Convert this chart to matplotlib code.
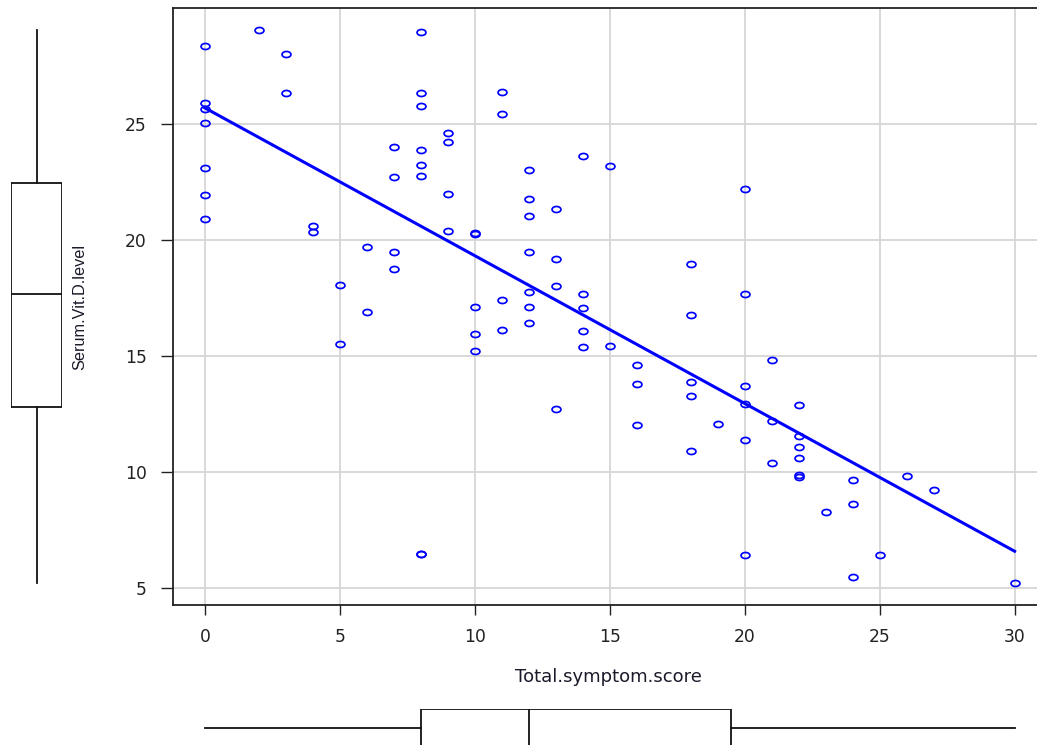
import numpy as np
import matplotlib.pyplot as plt
from matplotlib.path import Path

# Total symptom score and serum vitamin D level
score = [0, 0, 0, 0, 0, 0, 0,
         2,
         3, 3,
         4, 4,
         5, 5,
         6, 6,
         7, 7, 7, 7,
         8, 8, 8, 8, 8, 8, 8, 8,
         9, 9, 9, 9,
         10, 10, 10, 10, 10,
         11, 11, 11, 11,
         12, 12, 12, 12, 12, 12, 12,
         13, 13, 13, 13,
         14, 14, 14, 14, 14,
         15, 15,
         16, 16, 16,
         18, 18, 18, 18, 18,
         19,
         20, 20, 20, 20, 20, 20,
         21, 21, 21,
         22, 22, 22, 22, 22, 22,
         23,
         24, 24, 24,
         25, 26, 27, 30]

vitd = [28.35, 25.89, 25.65, 25.03, 23.09, 21.94, 20.91,
        29.05,
        28.03, 26.34,
        20.60, 20.33,
        18.06, 15.53,
        19.71, 16.88,
        24.00, 22.72, 19.50, 18.74,
        28.95, 26.34, 25.79, 23.89, 23.25, 22.76, 6.47, 6.47,
        24.60, 24.21, 22.00, 20.37,
        20.32, 20.28, 17.11, 15.93, 15.22,
        26.39, 25.42, 17.43, 16.13,
        23.03, 21.78, 21.02, 19.50, 17.76, 17.11, 16.41,
        21.35, 19.17, 18.03, 12.70,
        23.63, 17.66, 17.06, 16.08, 15.38,
        23.19, 15.43,
        14.61, 13.79, 12.01,
        18.95, 16.78, 13.86, 13.26, 10.92,
        12.05,
        22.20, 17.66, 13.69, 12.93, 11.36, 6.41,
        14.83, 12.21, 10.37,
        12.87, 11.56, 11.08, 10.59, 9.87, 9.80,
        8.26,
        9.67, 8.63, 5.49,
        6.41, 9.83, 9.24, 5.22]

xticks = [0, 5, 10, 15, 20, 25, 30]
yticks = [5, 10, 15, 20, 25]

score = np.array(score, dtype=float)
vitd = np.array(vitd)

W, H = 1037, 745
fig = plt.figure(figsize=(W / 100, H / 100), dpi=100)

# main scatter panel (right edge runs past the figure like in the reference)
ax = fig.add_axes([172.5 / W, (H - 605) / H, (1047 - 172.5) / W, (605 - 8) / H])

circ = Path.unit_circle()
ellipse = Path(circ.vertices * [1, 0.68], circ.codes)

ax.plot(score, vitd, linestyle='none', marker=ellipse, markersize=6.4,
        markerfacecolor='none', markeredgecolor='blue', markeredgewidth=1.25,
        zorder=3)

b, a = np.polyfit(score, vitd, 1)
xx = np.array([score.min(), score.max()])
ax.plot(xx, a + b * xx, color='blue', linewidth=2.2, zorder=4)

ax.set_xticks(xticks)
ax.set_yticks(yticks)
ax.grid(True, color='#d6d6d6', linewidth=1.3)
ax.set_axisbelow(True)
for s in ax.spines.values():
    s.set_linewidth(1.3)
    s.set_color('#222222')
ax.tick_params(axis='y', direction='out', length=8.6, width=1.0, pad=10,
               labelsize=12.3, colors='#222222')
ax.tick_params(axis='x', direction='out', length=7.2, width=1.0, pad=9.5,
               labelsize=12.3, colors='#222222')

fig.text(608 / W, 1 - 677 / H, 'Total.symptom.score', ha='center', va='center',
         fontsize=13, color='#1a1a2a')
fig.text(80 / W, 1 - 307 / H, 'Serum.Vit.D.level', ha='center', va='center',
         rotation=90, fontsize=11.7, color='#1a1a2a', family='Liberation Sans')

# marginal boxplots
boxstyle = dict(color='#111111', linewidth=1.3)
axl = fig.add_axes([11 / W, (H - 605) / H, 51 / W, (605 - 8) / H], sharey=ax)
axl.boxplot(vitd, positions=[0], widths=1, showcaps=False, manage_ticks=False,
            boxprops=boxstyle, whiskerprops=boxstyle, medianprops=boxstyle)
axl.set_xlim(-0.5, 0.5)
axl.axis('off')

axb = fig.add_axes([172.5 / W, (H - 747) / H, (1047 - 172.5) / W, 38 / H], sharex=ax)
axb.boxplot(score, positions=[0], widths=1, showcaps=False, manage_ticks=False,
            orientation='horizontal',
            boxprops=boxstyle, whiskerprops=boxstyle, medianprops=boxstyle)
axb.set_ylim(-0.5, 0.5)
axb.axis('off')

xr = score.max() - score.min()
yr = vitd.max() - vitd.min()
ax.set_xlim(score.min() - 0.04 * xr, score.max() + 0.04 * xr)
ax.set_ylim(vitd.min() - 0.04 * yr, vitd.max() + 0.04 * yr)

fig.savefig('out.png', dpi=100)
